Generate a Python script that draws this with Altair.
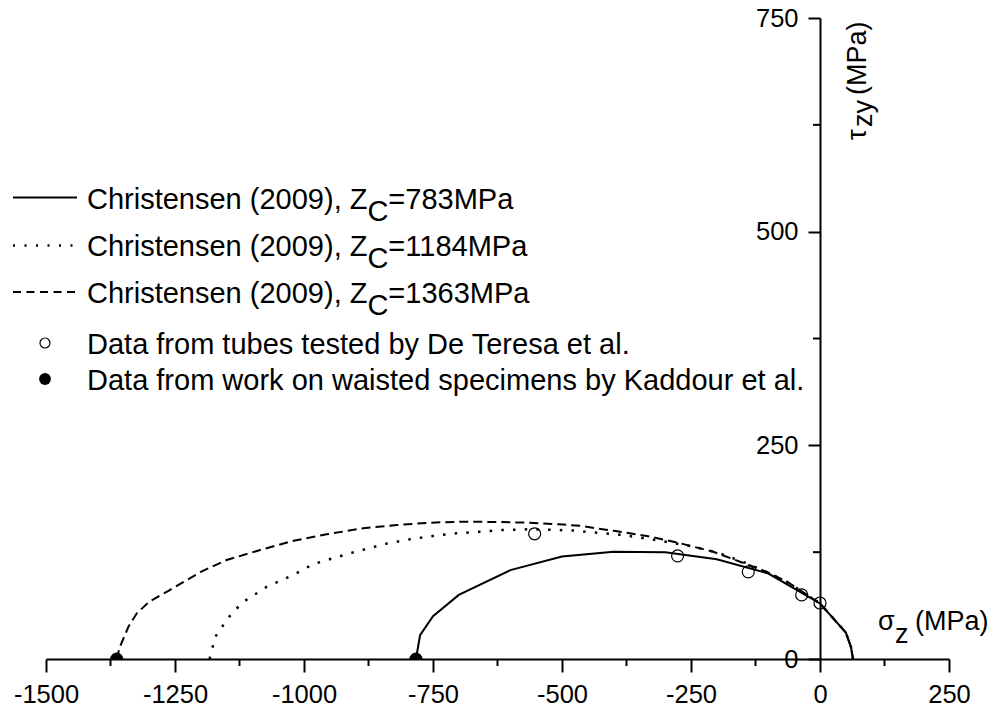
import altair as alt
import pandas as pd

# ---------------- data ----------------
# Christensen (2009), Zc = 783 MPa  (solid)
sol_x = [-783, -775, -750, -700, -600, -500, -400, -300, -200, -100, 0, 50, 60, 64]
sol_y = [0, 28, 50, 75, 104, 120, 125.6, 125, 116.6, 100, 65, 31, 14, 0]
# Christensen (2009), Zc = 1184 MPa (dotted)
dot_x = [-1183, -1172, -1156, -1140, -1117, -1072, -1021, -982, -911, -840, -795, -750,
         -704, -659, -614, -568, -523, -478, -381, -316, -245, -194, -142, -97, -58, 0, 50, 60, 64]
dot_y = [0, 26, 40, 53.5, 67, 84.6, 98.3, 111, 123.7, 135, 140, 144,
         147, 149, 151, 151.7, 151.3, 150.3, 145, 139, 131.4, 123.6, 112, 100, 88, 65, 31, 14, 0]
# Christensen (2009), Zc = 1363 MPa (dashed)
dash_x = [-1363, -1357, -1340, -1324, -1300, -1260, -1200, -1150, -1085, -1020, -956, -885,
          -820, -756, -691, -626, -562, -497, -465, -400, -336, -271, -207, -155, -103, -64,
          0, 50, 60, 64]
dash_y = [0, 14, 38, 53.5, 67, 80.7, 102, 115.8, 127.5, 138.4, 145.9, 153,
          156.8, 159.5, 160.7, 160.3, 159.5, 157.3, 155.8, 150, 144, 135.4, 125.5, 113.8, 102, 90.5,
          65, 31, 14, 0]
# Data from tubes tested by De Teresa et al. (open circles)
tube_x = [-553, -276, -139, -35.5, 0]
tube_y = [146.5, 120.7, 102, 75, 65.5]
# Data from work on waisted specimens by Kaddour et al. (filled circles)
kad_x = [-1363, -783]
kad_y = [0, 0]

x_ticks = [-1500, -1250, -1000, -750, -500, -250, 0, 250]
x_minor = [-1375, -1125, -875, -625, -375, -125, 125]
y_ticks = [0, 250, 500, 750]
y_minor = [125, 375, 625]

legend_zc = ["783", "1184", "1363"]

# ---------------- layout helpers ----------------
FONT = "Liberation Sans"
W = 903
H = 641
LEFT, TOP = 46, 18  # plot-area origin inside the 990x710 page

ARIAL = {'C': 722, 'h': 556, 'r': 333, 'i': 222, 's': 500, 't': 278, 'e': 556, 'n': 556,
         ' ': 278, '(': 333, ')': 333, '2': 556, '0': 556, '9': 556, ',': 278, 'Z': 611,
         '=': 584, '7': 556, '8': 556, '3': 556, '1': 556, '4': 556, '6': 556, 'M': 833,
         'P': 667, 'a': 556}


def text_width(s, size):
    return sum(ARIAL.get(c, 556) for c in s) / 1000.0 * size


def px(x):
    return x - LEFT


def py(y):
    return y - TOP


one = pd.DataFrame({"k": [0]})


def label(txt, x, y, size, angle=0, align="left", baseline="alphabetic"):
    kw = dict(text=txt, font=FONT, fontSize=size, color="black", align=align, baseline=baseline)
    if angle:
        kw["angle"] = angle
    return alt.Chart(one).mark_text(**kw).encode(x=alt.value(px(x)), y=alt.value(py(y)))


xs = alt.Scale(domain=[-1500, 250], nice=False, zero=False)
ys = alt.Scale(domain=[0, 750], nice=False, zero=False)


def curve_df(xv, yv):
    return pd.DataFrame({"x": xv, "y": yv, "i": list(range(len(xv)))})


HYPHEN_LABEL = "datum.value < 0 ? '-' + abs(datum.value) : '' + datum.value"

x_axis = alt.Axis(values=x_ticks, title=None, grid=False, tickSize=13, tickWidth=2,
                  domainWidth=2, domainColor="black", tickColor="black", labelColor="black",
                  labelFont=FONT, labelFontSize=25.5, labelPadding=10, labelFlush=False,
                  labelOverlap=False, labelExpr=HYPHEN_LABEL, orient="bottom")
y_axis = alt.Axis(values=y_ticks, title=None, grid=False, tickSize=12, tickWidth=2,
                  domainWidth=2, domainColor="black", tickColor="black", labelColor="black",
                  labelFont=FONT, labelFontSize=25.5, labelPadding=10, orient="left",
                  offset=-(820 - LEFT), labelOverlap=False, labelExpr=HYPHEN_LABEL)

X = lambda f: alt.X(f, scale=xs, axis=x_axis)
Y = lambda f: alt.Y(f, scale=ys, axis=y_axis)

solid = alt.Chart(curve_df(sol_x, sol_y)).mark_line(color="black", strokeWidth=2).encode(
    x=X("x:Q"), y=Y("y:Q"), order="i:Q")

dotted = alt.Chart(curve_df(dot_x, dot_y)).mark_line(
    color="black", strokeWidth=2.5, strokeDash=[2.5, 9.2]).encode(
    x=X("x:Q"), y=Y("y:Q"), order="i:Q")

dashed = alt.Chart(curve_df(dash_x, dash_y)).mark_line(
    color="black", strokeWidth=2, strokeDash=[9, 5]).encode(
    x=X("x:Q"), y=Y("y:Q"), order="i:Q")

tubes = alt.Chart(pd.DataFrame({"x": tube_x, "y": tube_y})).mark_point(
    shape="circle", filled=False, color="black", size=144, strokeWidth=1.2, opacity=1).encode(
    x=X("x:Q"), y=Y("y:Q"))

kad = alt.Chart(pd.DataFrame({"x": kad_x, "y": kad_y})).mark_point(
    shape="circle", filled=True, color="black", size=170, opacity=1, clip=True).encode(
    x=X("x:Q"), y=Y("y:Q"))

xminor = alt.Chart(pd.DataFrame({"v": x_minor})).mark_rule(color="black", strokeWidth=2).encode(
    x=X("v:Q"), y=alt.value(H), y2=alt.value(H + 7))

yminor = alt.Chart(pd.DataFrame({"v": y_minor})).mark_rule(color="black", strokeWidth=2).encode(
    y=Y("v:Q"), x=alt.value(px(820) - 7), x2=alt.value(px(820)))

layers = [solid, dotted, dashed, tubes, kad, xminor, yminor]

# ---------------- legend ----------------
LFS = 29
line_y = [197.5, 245.5, 292]
text_base = [208.5, 255.5, 302.5]
styles = [dict(), dict(strokeDash=[2, 9.5], strokeWidth=2.5), dict(strokeDash=[8, 5.5])]
for k in range(3):
    st = dict(color="black", strokeWidth=2)
    st.update(styles[k])
    layers.append(alt.Chart(one).mark_rule(**st).encode(
        x=alt.value(px(13)), x2=alt.value(px(77)), y=alt.value(py(line_y[k]))))
    head = "Christensen (2009), Z"
    x0 = 87
    layers.append(label(head, x0, text_base[k], LFS))
    x1 = x0 + text_width(head, LFS)
    layers.append(label("C", x1, text_base[k] + 12, LFS))
    x2 = x1 + text_width("C", LFS)
    layers.append(label("=" + legend_zc[k] + "MPa", x2, text_base[k], LFS))

layers.append(alt.Chart(one).mark_point(shape="circle", filled=False, color="black", size=100,
                                        strokeWidth=1.2, opacity=1).encode(
    x=alt.value(px(45)), y=alt.value(py(343))))
layers.append(label("Data from tubes tested by De Teresa et al.", 87, 353.5, LFS))
layers.append(alt.Chart(one).mark_point(shape="circle", filled=True, color="black", size=140,
                                        opacity=1).encode(
    x=alt.value(px(45)), y=alt.value(py(379))))
layers.append(label("Data from work on waisted specimens by Kaddour et al.", 87, 389.5, LFS))

# ---------------- axis titles ----------------
TFS = 27
layers.append(label("σ", 878, 630, TFS))
layers.append(label("z", 895, 643, TFS))
layers.append(label("(MPa)", 915, 629.5, TFS))

layers.append(label("τ", 866, 140, TFS, angle=270))
layers.append(label("zy", 872, 127, TFS, angle=270))
layers.append(label("(MPa)", 866, 95, TFS, angle=270))

chart = alt.layer(*layers).properties(
    width=W, height=H,
    autosize=alt.AutoSizeParams(type="none"),
    padding={"left": LEFT, "top": TOP, "right": 990 - LEFT - W, "bottom": 710 - TOP - H},
    background="white",
).configure_view(stroke=None)

chart.save("out.html", embed_options={"renderer": "svg", "actions": False})
